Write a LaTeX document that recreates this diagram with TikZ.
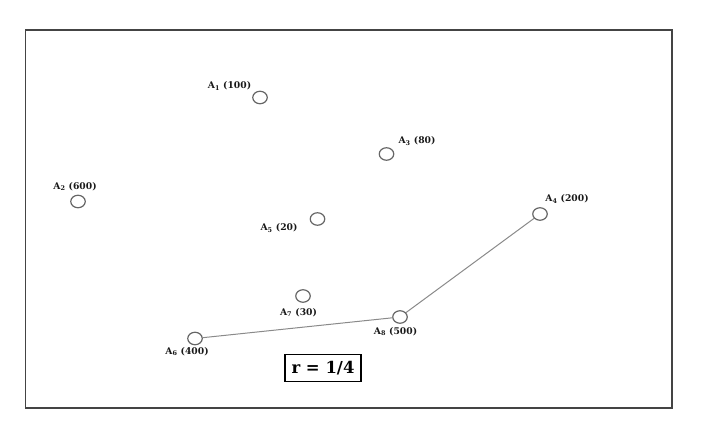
\documentclass[tikz,border=0pt]{standalone}
\usepackage{fontspec}
\setmainfont{DejaVu Serif}
\usetikzlibrary{shapes.geometric}
\definecolor{framegray}{HTML}{444444}
\definecolor{ptgray}{HTML}{666666}
\definecolor{linegray}{HTML}{8A8A8A}
\tikzset{
  pt/.style={ellipse, draw=ptgray, line width=1.2bp, minimum width=14.5bp, minimum height=12.5bp, inner sep=0pt, fill=white},
  lbl/.style={font=\bfseries\fontsize{9.2bp}{11bp}\selectfont, inner sep=0pt, text=black!90},
  conn/.style={draw=linegray, line width=1bp},
  rbox/.style={draw=black, line width=1.8bp, minimum width=76bp, minimum height=27bp, inner sep=0pt, font=\bfseries\fontsize{16.5bp}{18bp}\selectfont}
}
\begin{document}
\begin{tikzpicture}[x=1bp,y=-1bp]
\useasboundingbox (0,0) rectangle (704,437);
\draw[framegray, line width=1.5bp] (25.5,30) rectangle (672,408);
% points
\node[pt] (a1) at (260,97.5) {};
\node[pt] (a3) at (386.5,154) {};
\node[pt] (a2) at (78,201.5) {};
\node[pt] (a5) at (317.5,219) {};
\node[pt] (a4) at (540,214) {};
\node[pt] (a7) at (303,296) {};
\node[pt] (a8) at (400,317) {};
\node[pt] (a6) at (195,338.5) {};
% connectors
\draw[conn] (a6) -- (a8);
\draw[conn] (a8) -- (a4);
% labels
\node[lbl] (l1) at (229.5,86) {A\textsubscript{1} (100)};
\node[lbl] (l3) at (417,141) {A\textsubscript{3} (80)};
\node[lbl] (l2) at (75,186.5) {A\textsubscript{2} (600)};
\node[lbl] (l5) at (279,228) {A\textsubscript{5} (20)};
\node[lbl] (l4) at (567,199) {A\textsubscript{4} (200)};
\node[lbl] (l7) at (298.5,312.5) {A\textsubscript{7} (30)};
\node[lbl] (l8) at (395.5,331.5) {A\textsubscript{8} (500)};
\node[lbl] (l6) at (187,351.5) {A\textsubscript{6} (400)};
% ratio box
\node[rbox] (r) at (323,368) {r = 1/4};
\end{tikzpicture}
\end{document}
